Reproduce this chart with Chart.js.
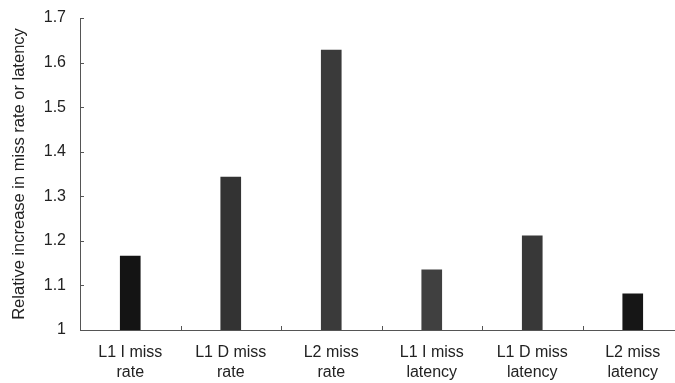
<!DOCTYPE html>
<html>
<head>
<meta charset="utf-8">
<script src="https://cdn.jsdelivr.net/npm/chart.js@4/dist/chart.umd.min.js"></script>
<style>
  html, body { margin: 0; padding: 0; background: #fff; overflow: hidden; }
  #wrap { width: 675px; height: 383px; overflow: hidden; }
</style>
</head>
<body>
<div id="wrap"><canvas id="missChart" width="683" height="383"></canvas></div>
<script>
// Categories (two-line labels) and relative increase values
const categories = [
  ['L1 I miss', 'rate'],
  ['L1 D miss', 'rate'],
  ['L2 miss', 'rate'],
  ['L1 I miss', 'latency'],
  ['L1 D miss', 'latency'],
  ['L2 miss', 'latency']
];
const increase = [1.166, 1.343, 1.628, 1.135, 1.211, 1.081];
const yTickLabels = ['1', '1.1', '1.2', '1.3', '1.4', '1.5', '1.6', '1.7'];

// bar shades (scanned halftone, outer bars darker)
const barColors = ['#141414', '#333333', '#3a3a3a', '#404040', '#383838', '#161616'];

const font = { family: "'Liberation Sans', Arial, sans-serif", size: 16 };

// small tick marks drawn inside the plot, like the printed figure
const innerTicks = {
  id: 'innerTicks',
  afterDraw(chart) {
    const c = chart.ctx;
    const x = chart.scales.x;
    const y = chart.scales.y;
    c.save();
    c.strokeStyle = '#555';
    c.lineWidth = 1;
    c.beginPath();
    y.ticks.forEach((t, i) => {
      const py = Math.round(y.getPixelForTick(i)) + 0.5;
      c.moveTo(y.right, py);
      c.lineTo(y.right + 4, py);
    });
    for (let i = 0; i < x.ticks.length - 1; i++) {
      const px = Math.round((x.getPixelForTick(i) + x.getPixelForTick(i + 1)) / 2) + 0.5;
      c.moveTo(px, x.top);
      c.lineTo(px, x.top - 4);
    }
    c.stroke();
    c.restore();
  }
};

const ctx = document.getElementById('missChart').getContext('2d');
new Chart(ctx, {
  type: 'bar',
  data: {
    labels: categories,
    datasets: [{
      data: increase,
      backgroundColor: barColors,
      borderWidth: 0,
      barThickness: 20
    }]
  },
  options: {
    responsive: false,
    animation: false,
    layout: {
      padding: { left: 0, right: 0, top: 18, bottom: 0 }
    },
    scales: {
      x: {
        grid: {
          drawOnChartArea: false,
          drawTicks: false
        },
        border: { color: '#555', width: 1 },
        ticks: {
          color: '#222',
          font: { ...font, lineHeight: 1.25 },
          padding: 13,
          maxRotation: 0,
          autoSkip: false
        },
        afterFit: function(scale) {
          scale.height = 53;
          scale.paddingLeft = 0;
          scale.paddingRight = 0;
        }
      },
      y: {
        min: 1,
        max: 1.7,
        grid: {
          drawOnChartArea: false,
          drawTicks: false
        },
        border: { color: '#555', width: 1 },
        ticks: {
          stepSize: 0.1,
          color: '#222',
          font: font,
          padding: 14,
          callback: function(value, index) {
            return yTickLabels[index];
          }
        },
        title: {
          display: true,
          text: 'Relative increase in miss rate or latency',
          color: '#222',
          font: { ...font, size: 16.5 },
          padding: { top: 10, bottom: 0 }
        },
        afterFit: function(scale) {
          scale.width = 80;
          scale.paddingTop = 0;
          scale.paddingBottom = 0;
        }
      }
    },
    plugins: {
      legend: { display: false },
      tooltip: { enabled: false }
    }
  },
  plugins: [innerTicks]
});
</script>
</body>
</html>
